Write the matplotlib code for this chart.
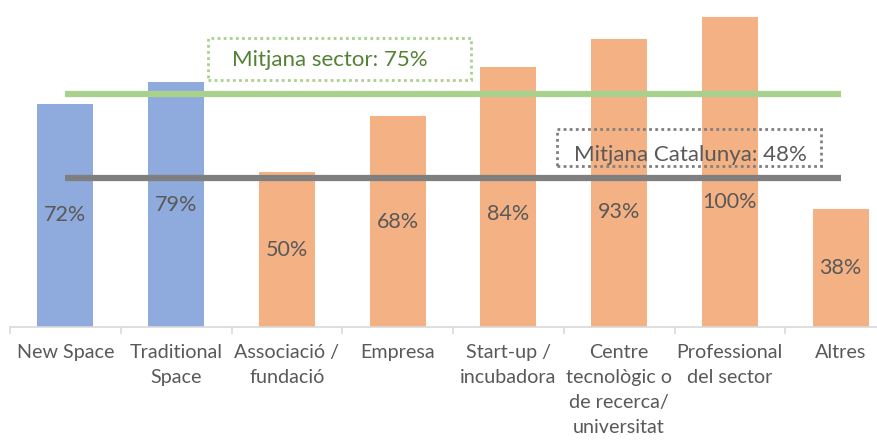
import numpy as np
import matplotlib
matplotlib.use("Agg")
import matplotlib.pyplot as plt
from matplotlib.patches import Rectangle

categories = ["New Space", "Traditional\nSpace", "Associació /\nfundació", "Empresa",
              "Start-up /\nincubadora", "Centre\ntecnològic o\nde recerca/\nuniversitat",
              "Professional\ndel sector", "Altres"]
values = [72, 79, 50, 68, 84, 93, 100, 38]
bar_colors = ["#8FAADC", "#8FAADC", "#F4B183", "#F4B183",
              "#F4B183", "#F4B183", "#F4B183", "#F4B183"]
sector_avg = 75
catalunya_avg = 48

plt.rcParams['font.family'] = ['Lato', 'DejaVu Sans']
txt = "#595959"

W, H = 877, 441
fig = plt.figure(figsize=(W / 100, H / 100), dpi=100)
# axes spans beyond the right edge, like the cropped original
ax = fig.add_axes([10 / W, (H - 327) / H, 886 / W, 310 / H])

x = np.arange(len(values))
ax.bar(x, values, width=0.505, color=bar_colors, zorder=2, clip_on=False)
# labels sit mid-bar, except the tall ones which were pushed below the grey line
label_y = [v / 2 for v in values]
label_y[4], label_y[5], label_y[6] = 36.5, 37.2, 40.3
for xi, v, ly in zip(x, values, label_y):
    ax.text(xi, ly, f"{v}%", ha="center", va="center", fontsize=15.5, color=txt, zorder=4)

ax.plot([0, 7], [sector_avg, sector_avg], color="#A9D18E", lw=4.5, zorder=3, solid_capstyle="butt")
ax.plot([0, 7], [catalunya_avg, catalunya_avg], color="#7F7F7F", lw=4.5, zorder=3, solid_capstyle="butt")

ax.set_xlim(-0.5, 7.5)
ax.set_ylim(0, 100)
for s in ["top", "right", "left"]:
    ax.spines[s].set_visible(False)
ax.spines["bottom"].set_color("#D9D9D9")
ax.spines["bottom"].set_linewidth(1.2)
ax.set_yticks([])
ax.set_xticks(x)
ax.set_xticklabels(categories, fontsize=14.2, color=txt, linespacing=1.58, va="top")
ax.tick_params(axis="x", which="major", length=0, pad=12)
ax.set_xticks(np.arange(-0.5, 8, 1), minor=True)
ax.tick_params(axis="x", which="minor", length=5, color="#D9D9D9", width=1.2)

# dotted label boxes, pixel coordinates from top-left
def box(x0, y0, x1, y1, ec):
    fig.patches.append(Rectangle((x0 / W, (H - y1) / H), (x1 - x0) / W, (y1 - y0) / H,
                                 transform=fig.transFigure, fill=False, ec=ec,
                                 lw=2, ls=(0, (1, 1.2)), zorder=5))

box(208, 38, 471, 80, "#A9D18E")
fig.text(330 / W, 1 - 60 / H, f"Mitjana sector: {sector_avg}%", ha="center", va="center",
         fontsize=16, color="#548235")
box(557, 129, 821, 166, "#7F7F7F")
fig.text(690 / W, 1 - 155 / H, f"Mitjana Catalunya: {catalunya_avg}%", ha="center", va="center",
         fontsize=16, color=txt)

fig.savefig("out.png", dpi=100)
